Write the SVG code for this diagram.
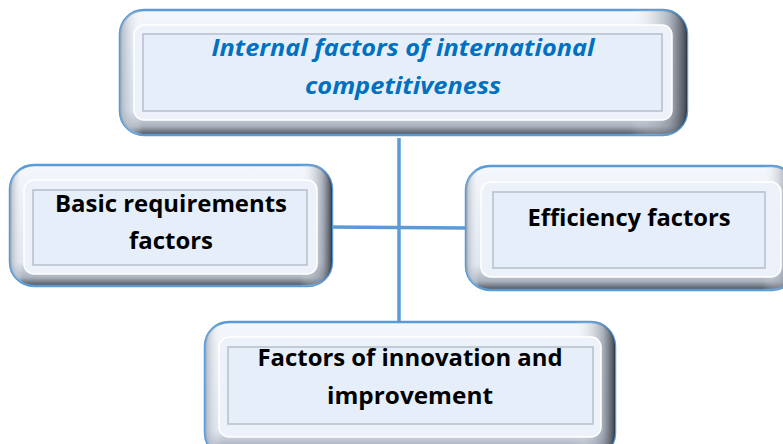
<svg xmlns="http://www.w3.org/2000/svg" width="783" height="444" viewBox="0 0 783 444">
<defs>
<linearGradient id="gv" x1="0" y1="0" x2="0" y2="1">
<stop offset="0" stop-color="#f4f7fc"/>
<stop offset="0.8" stop-color="#dfe5ee"/>
<stop offset="0.93" stop-color="#a9b1bd"/>
<stop offset="1" stop-color="#4a505a"/>
</linearGradient>
<linearGradient id="gh" x1="0" y1="0" x2="1" y2="0">
<stop offset="0" stop-color="#ffffff" stop-opacity="0"/>
<stop offset="0.9" stop-color="#ffffff" stop-opacity="0"/>
<stop offset="0.97" stop-color="#7d8592" stop-opacity="0.6"/>
<stop offset="1" stop-color="#2b3038" stop-opacity="0.9"/>
</linearGradient>
<linearGradient id="gl" x1="0" y1="0" x2="1" y2="0">
<stop offset="0" stop-color="#9aa6b6" stop-opacity="0.8"/>
<stop offset="0.04" stop-color="#ffffff" stop-opacity="0"/>
<stop offset="1" stop-color="#ffffff" stop-opacity="0"/>
</linearGradient>
</defs>
<style>
.outer{stroke:#5b9bd5;stroke-width:2.5}
.mid{fill:#edf2fa;stroke:#ffffff;stroke-width:1.5}
.inner{fill:#e6eefa;stroke:#b5bfcc;stroke-width:1.5}
.conn{stroke:#5b9bd5;stroke-width:3.5;fill:none}
.t{font-family:"Open Sans","Liberation Sans",sans-serif;font-weight:bold;text-anchor:middle;fill:#000}
.ti{font-family:"Open Sans","Liberation Sans",sans-serif;font-weight:bold;font-style:italic;text-anchor:middle;fill:#0070c0}
</style>
<g id="connectors">
<line class="conn" x1="399" y1="138" x2="399" y2="323"/>
<line class="conn" x1="326" y1="227" x2="467" y2="228"/>
</g>
<g id="top">
<rect class="outer" x="120" y="10" width="567" height="125" rx="24" fill="url(#gv)"/>
<rect x="120" y="10" width="567" height="125" rx="24" fill="url(#gh)"/>
<rect x="120" y="10" width="567" height="125" rx="24" fill="url(#gl)"/>
<rect class="mid" x="134" y="25" width="538" height="95" rx="10"/>
<rect class="inner" x="143" y="34" width="519" height="77"/>
<text class="ti" x="403" y="56" font-size="24" textLength="383" lengthAdjust="spacingAndGlyphs">Internal factors of international</text>
<text class="ti" x="403" y="94" font-size="24" textLength="196" lengthAdjust="spacingAndGlyphs">competitiveness</text>
</g>
<g id="basic">
<rect class="outer" x="10" y="165" width="322" height="121" rx="24" fill="url(#gv)"/>
<rect x="10" y="165" width="322" height="121" rx="24" fill="url(#gh)"/>
<rect x="10" y="165" width="322" height="121" rx="24" fill="url(#gl)"/>
<rect class="mid" x="24" y="180" width="293" height="94" rx="10"/>
<rect class="inner" x="33" y="190" width="274" height="75"/>
<text class="t" x="171" y="212" font-size="23" textLength="232" lengthAdjust="spacingAndGlyphs">Basic requirements</text>
<text class="t" x="171" y="249" font-size="23" textLength="84" lengthAdjust="spacingAndGlyphs">factors</text>
</g>
<g id="efficiency">
<rect class="outer" x="466" y="166" width="330" height="124" rx="24" fill="url(#gv)"/>
<rect x="466" y="166" width="330" height="124" rx="24" fill="url(#gh)"/>
<rect x="466" y="166" width="330" height="124" rx="24" fill="url(#gl)"/>
<rect class="mid" x="481" y="182" width="300" height="95" rx="10"/>
<rect class="inner" x="493" y="192" width="272" height="76"/>
<text class="t" x="629" y="226" font-size="23" textLength="203" lengthAdjust="spacingAndGlyphs">Efficiency factors</text>
</g>
<g id="innovation">
<rect class="outer" x="205" y="322" width="410" height="135" rx="24" fill="url(#gv)"/>
<rect x="205" y="322" width="410" height="135" rx="24" fill="url(#gh)"/>
<rect x="205" y="322" width="410" height="135" rx="24" fill="url(#gl)"/>
<rect class="mid" x="219" y="337" width="382" height="100" rx="10"/>
<rect class="inner" x="228" y="347" width="365" height="77"/>
<text class="t" x="410" y="366" font-size="23" textLength="305" lengthAdjust="spacingAndGlyphs">Factors of innovation and</text>
<text class="t" x="410" y="404" font-size="23" textLength="166" lengthAdjust="spacingAndGlyphs">improvement</text>
</g>
</svg>
